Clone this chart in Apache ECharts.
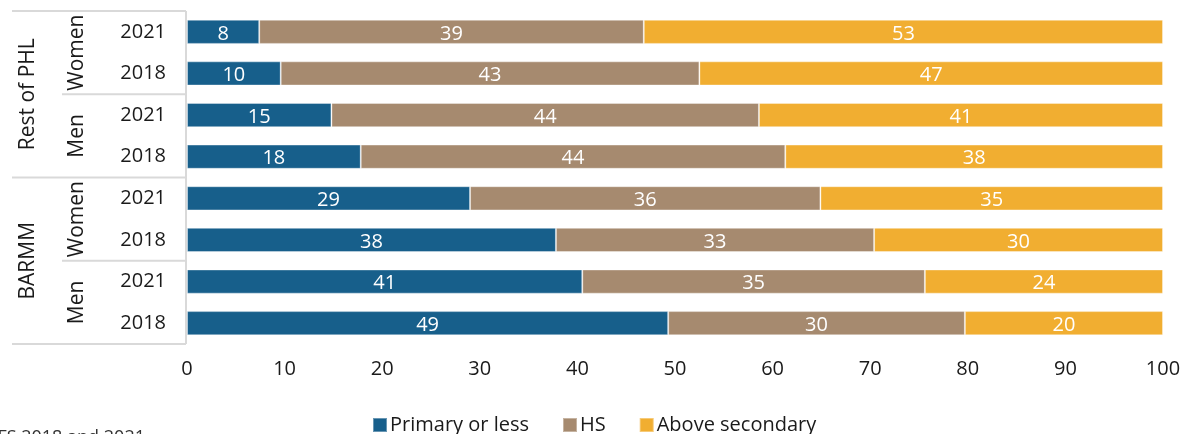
<!DOCTYPE html>
<html>
<head>
<meta charset="utf-8">
<script src="https://cdn.jsdelivr.net/npm/echarts@6/dist/echarts.min.js"></script>
<style>
html,body{margin:0;padding:0;background:#fff;}
#chart{width:1185px;height:434px;}
</style>
</head>
<body>
<div id="chart"></div>
<script>
// Categories (top to bottom)
const categories = ['2021', '2018', '2021', '2018', '2021', '2018', '2021', '2018'];
const sexGroups = ['Women', 'Men', 'Women', 'Men'];
const regionGroups = ['Rest of PHL', 'BARMM'];

// Shares (%)
const primary = [7.4, 9.6, 14.8, 17.8, 29.0, 37.8, 40.5, 49.3];
const hs      = [39.4, 42.9, 43.8, 43.5, 35.9, 32.6, 35.1, 30.4];
const above   = [53.2, 47.5, 41.4, 38.7, 35.1, 29.6, 24.4, 20.3];

// Printed data labels
const primaryLabels = [8, 10, 15, 18, 29, 38, 41, 49];
const hsLabels      = [39, 43, 44, 44, 36, 33, 35, 30];
const aboveLabels   = [53, 47, 41, 38, 35, 30, 24, 20];

const seriesNames = ['Primary or less', 'HS', 'Above secondary'];
const sourceNote = 'LFS 2018 and 2021';

const FONT = '"Open Sans", "Noto Sans", sans-serif';
const FS = 20;
const colors = ['#175f8b', '#a68a6f', '#f1ae31'];

const chart = echarts.init(document.getElementById('chart'), null, {renderer: 'canvas'});

function mkSeries(name, data, labels, color) {
  return {
    name: name,
    type: 'bar',
    stack: 'total',
    data: data,
    barCategoryGap: '42%',
    itemStyle: {color: color, borderColor: 'rgba(255,255,255,0.35)', borderWidth: 1},
    label: {
      show: true,
      position: 'inside',
      color: '#ffffff',
      fontFamily: FONT,
      fontSize: FS,
      offset: [0, 2],
      formatter: p => String(labels[p.dataIndex])
    },
    emphasis: {disabled: true}
  };
}

const option = {
  animation: false,
  color: colors,
  grid: {left: 187, right: 22, top: 11, bottom: 90, containLabel: false},
  xAxis: {
    type: 'value',
    min: 0, max: 100, interval: 10,
    axisLine: {show: false},
    axisTick: {show: false},
    splitLine: {show: false},
    axisLabel: {color: '#1a1a1a', fontFamily: FONT, fontSize: FS, margin: 15}
  },
  yAxis: {
    type: 'category',
    inverse: true,
    data: categories,
    axisLine: {show: false},
    axisTick: {show: false},
    axisLabel: {color: '#1a1a1a', fontFamily: FONT, fontSize: FS, margin: 21}
  },
  legend: {
    show: true,
    data: seriesNames,
    left: 367,
    top: 410,
    itemWidth: 14,
    itemHeight: 14,
    itemGap: 33,
    icon: 'rect',
    textStyle: {color: '#1a1a1a', fontFamily: FONT, fontSize: FS, padding: [0, 0, 0, -2]}
  },
  series: [
    mkSeries(seriesNames[0], primary, primaryLabels, colors[0]),
    mkSeries(seriesNames[1], hs, hsLabels, colors[1]),
    mkSeries(seriesNames[2], above, aboveLabels, colors[2])
  ]
};
chart.setOption(option);

// Hierarchical category labels and table lines
function yPix(i) { return chart.convertToPixel({yAxisIndex: 0}, i); }
const y0 = yPix(0), y1 = yPix(1);
const step = y1 - y0;
const boundary = k => y0 + (k - 0.5) * step; // boundary above row k
const lineStyle = {stroke: '#d9d9d9', lineWidth: 2};
const rightX = 186, leftX = 12, midX = 62;
const g = [];
const n = categories.length;
for (let r = 0; r <= regionGroups.length; r++) {
  const y = boundary(r * 4);
  g.push({type: 'line', shape: {x1: leftX, y1: y, x2: rightX, y2: y}, style: lineStyle, silent: true});
}
for (let r = 0; r < regionGroups.length; r++) {
  const y = boundary(r * 4 + 2);
  g.push({type: 'line', shape: {x1: midX, y1: y, x2: rightX, y2: y}, style: lineStyle, silent: true});
}
g.push({type: 'line', shape: {x1: rightX, y1: boundary(0), x2: rightX, y2: boundary(n)}, style: lineStyle, silent: true});
sexGroups.forEach((s, i) => {
  const yc = (boundary(i * 2) + boundary(i * 2 + 2)) / 2;
  g.push({type: 'text', x: 77, y: yc, rotation: Math.PI / 2, silent: true,
    style: {text: s, fill: '#1a1a1a', font: '21px ' + FONT, textAlign: 'center', textVerticalAlign: 'middle'}});
});
regionGroups.forEach((s, i) => {
  const yc = (boundary(i * 4) + boundary(i * 4 + 4)) / 2;
  g.push({type: 'text', x: 28, y: yc, rotation: Math.PI / 2, silent: true,
    style: {text: s, fill: '#1a1a1a', font: '21px ' + FONT, textAlign: 'center', textVerticalAlign: 'middle'}});
});
g.push({type: 'text', x: -12, y: 429, silent: true,
  style: {text: sourceNote, fill: '#333', font: '18px ' + FONT, textAlign: 'left', textVerticalAlign: 'top'}});
chart.setOption({graphic: g});
</script>
</body>
</html>
